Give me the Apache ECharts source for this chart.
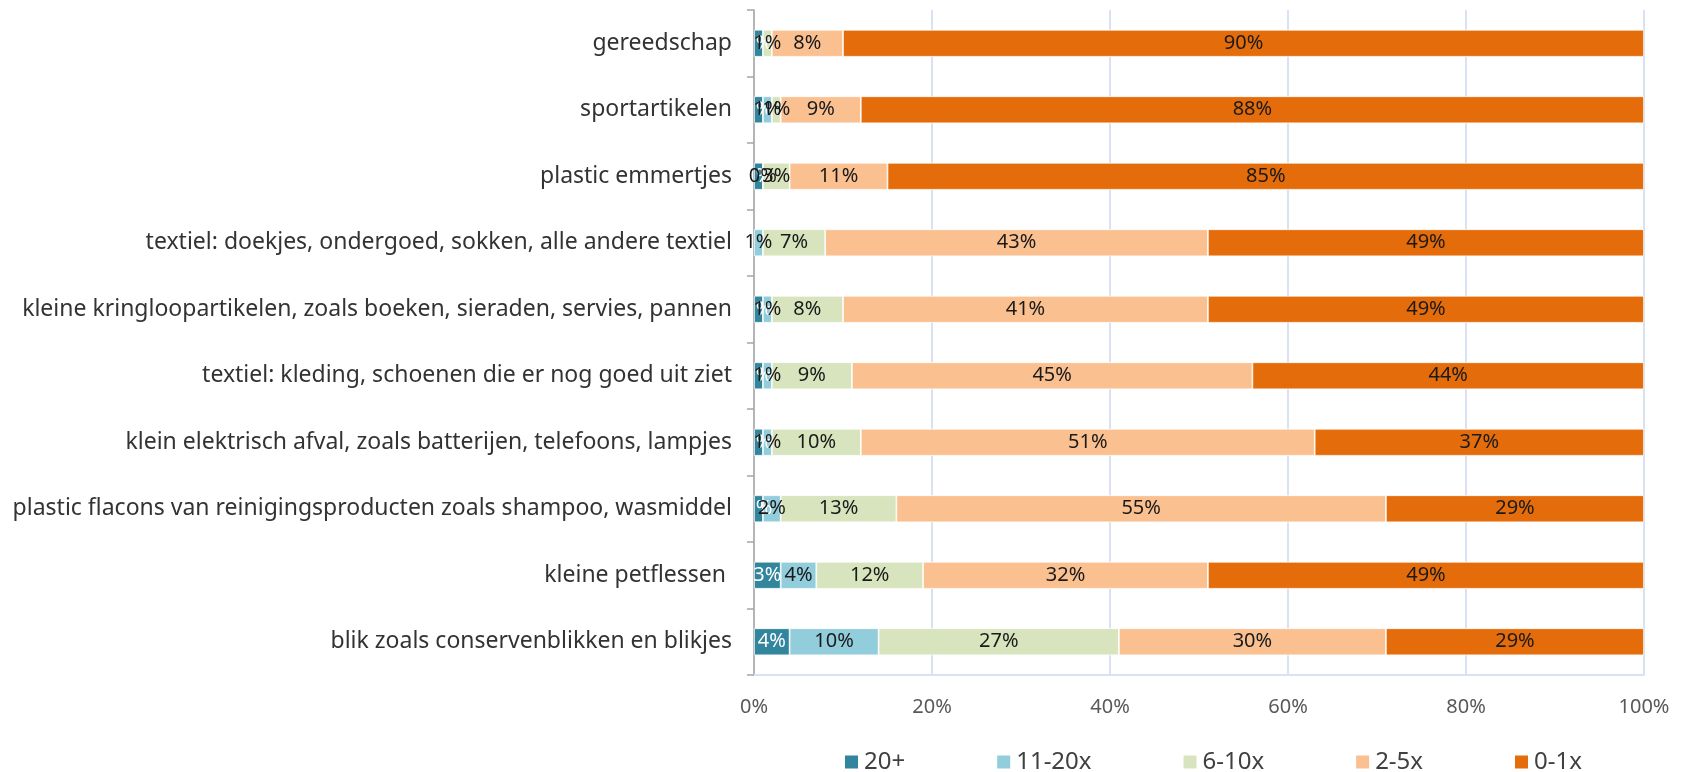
<!DOCTYPE html>
<html>
<head>
<meta charset="utf-8">
<script src="https://cdn.jsdelivr.net/npm/echarts@6/dist/echarts.min.js"></script>
<style>
  html, body { margin: 0; padding: 0; background: #fff; }
  #chart { width: 1685px; height: 772px; }
</style>
</head>
<body>
<div id="chart"></div>
<script>
// categories, top to bottom as in the picture
const categories = [
  'gereedschap',
  'sportartikelen',
  'plastic emmertjes',
  'textiel: doekjes, ondergoed, sokken, alle andere textiel',
  'kleine kringloopartikelen, zoals boeken, sieraden, servies, pannen',
  'textiel: kleding, schoenen die er nog goed uit ziet',
  'klein elektrisch afval, zoals batterijen, telefoons, lampjes',
  'plastic flacons van reinigingsproducten zoals shampoo, wasmiddel',
  'kleine petflessen ',
  'blik zoals conservenblikken en blikjes'
];

const seriesNames = ['20+', '11-20x', '6-10x', '2-5x', '0-1x'];

// percentages per category (same order as categories)
const v20plus = [1, 1, 1, null, 1, 1, 1, 1, 3, 4];
const v11to20 = [null, 1, 0, 1, 1, 1, 1, 2, 4, 10];
const v6to10 = [1, 1, 3, 7, 8, 9, 10, 13, 12, 27];
const v2to5 = [8, 9, 11, 43, 41, 45, 51, 55, 32, 30];
const v0to1 = [90, 88, 85, 49, 49, 44, 37, 29, 49, 29];

const xTicks = [0, 20, 40, 60, 80, 100];

const colors = ['#31859c', '#92cddc', '#d7e4bd', '#fac090', '#e46c0a'];
const labelColors = ['#ffffff', '#1a1a1a', '#1a1a1a', '#1a1a1a', '#1a1a1a'];
const FONT = 'Noto Sans';

const chart = echarts.init(document.getElementById('chart'));

const series = [v20plus, v11to20, v6to10, v2to5, v0to1].map((vals, i) => ({
  name: seriesNames[i],
  type: 'bar',
  stack: 'total',
  barWidth: 27,
  data: vals,
  itemStyle: {
    color: colors[i],
    borderColor: '#ffffff',
    borderWidth: 0.75
  },
  label: {
    show: true,
    position: 'inside',
    color: labelColors[i],
    fontFamily: FONT,
    fontSize: 20,
    formatter: p => (p.value == null ? '' : Math.round(p.value) + '%')
  },
  emphasis: { disabled: true }
}));

chart.setOption({
  animation: false,
  color: colors,
  grid: {
    left: 754,
    right: 41,
    top: 10,
    bottom: 97
  },
  xAxis: {
    type: 'value',
    min: 0,
    max: 100,
    interval: 20,
    axisLine: { show: true, lineStyle: { color: '#d9e1f2', width: 2 } },
    axisTick: { show: false },
    splitLine: { show: true, lineStyle: { color: '#d9e1f2', width: 2 } },
    axisLabel: {
      color: '#595959',
      fontFamily: FONT,
      fontSize: 20,
      margin: 22,
      formatter: v => (xTicks.includes(v) ? v + '%' : '')
    }
  },
  yAxis: {
    type: 'category',
    inverse: true,
    data: categories,
    axisLine: { show: true, lineStyle: { color: '#a6a6a6', width: 1.5 } },
    axisTick: { show: true, length: 7, lineStyle: { color: '#a6a6a6', width: 1.5 } },
    axisLabel: {
      color: '#333333',
      fontFamily: FONT,
      fontSize: 23,
      margin: 22
    }
  },
  legend: {
    data: seriesNames,
    left: 838,
    top: 745,
    itemWidth: 15,
    itemHeight: 15,
    itemGap: 90,
    icon: 'rect',
    textStyle: {
      color: '#404040',
      fontFamily: FONT,
      fontSize: 24
    }
  },
  series
});
</script>
</body>
</html>
